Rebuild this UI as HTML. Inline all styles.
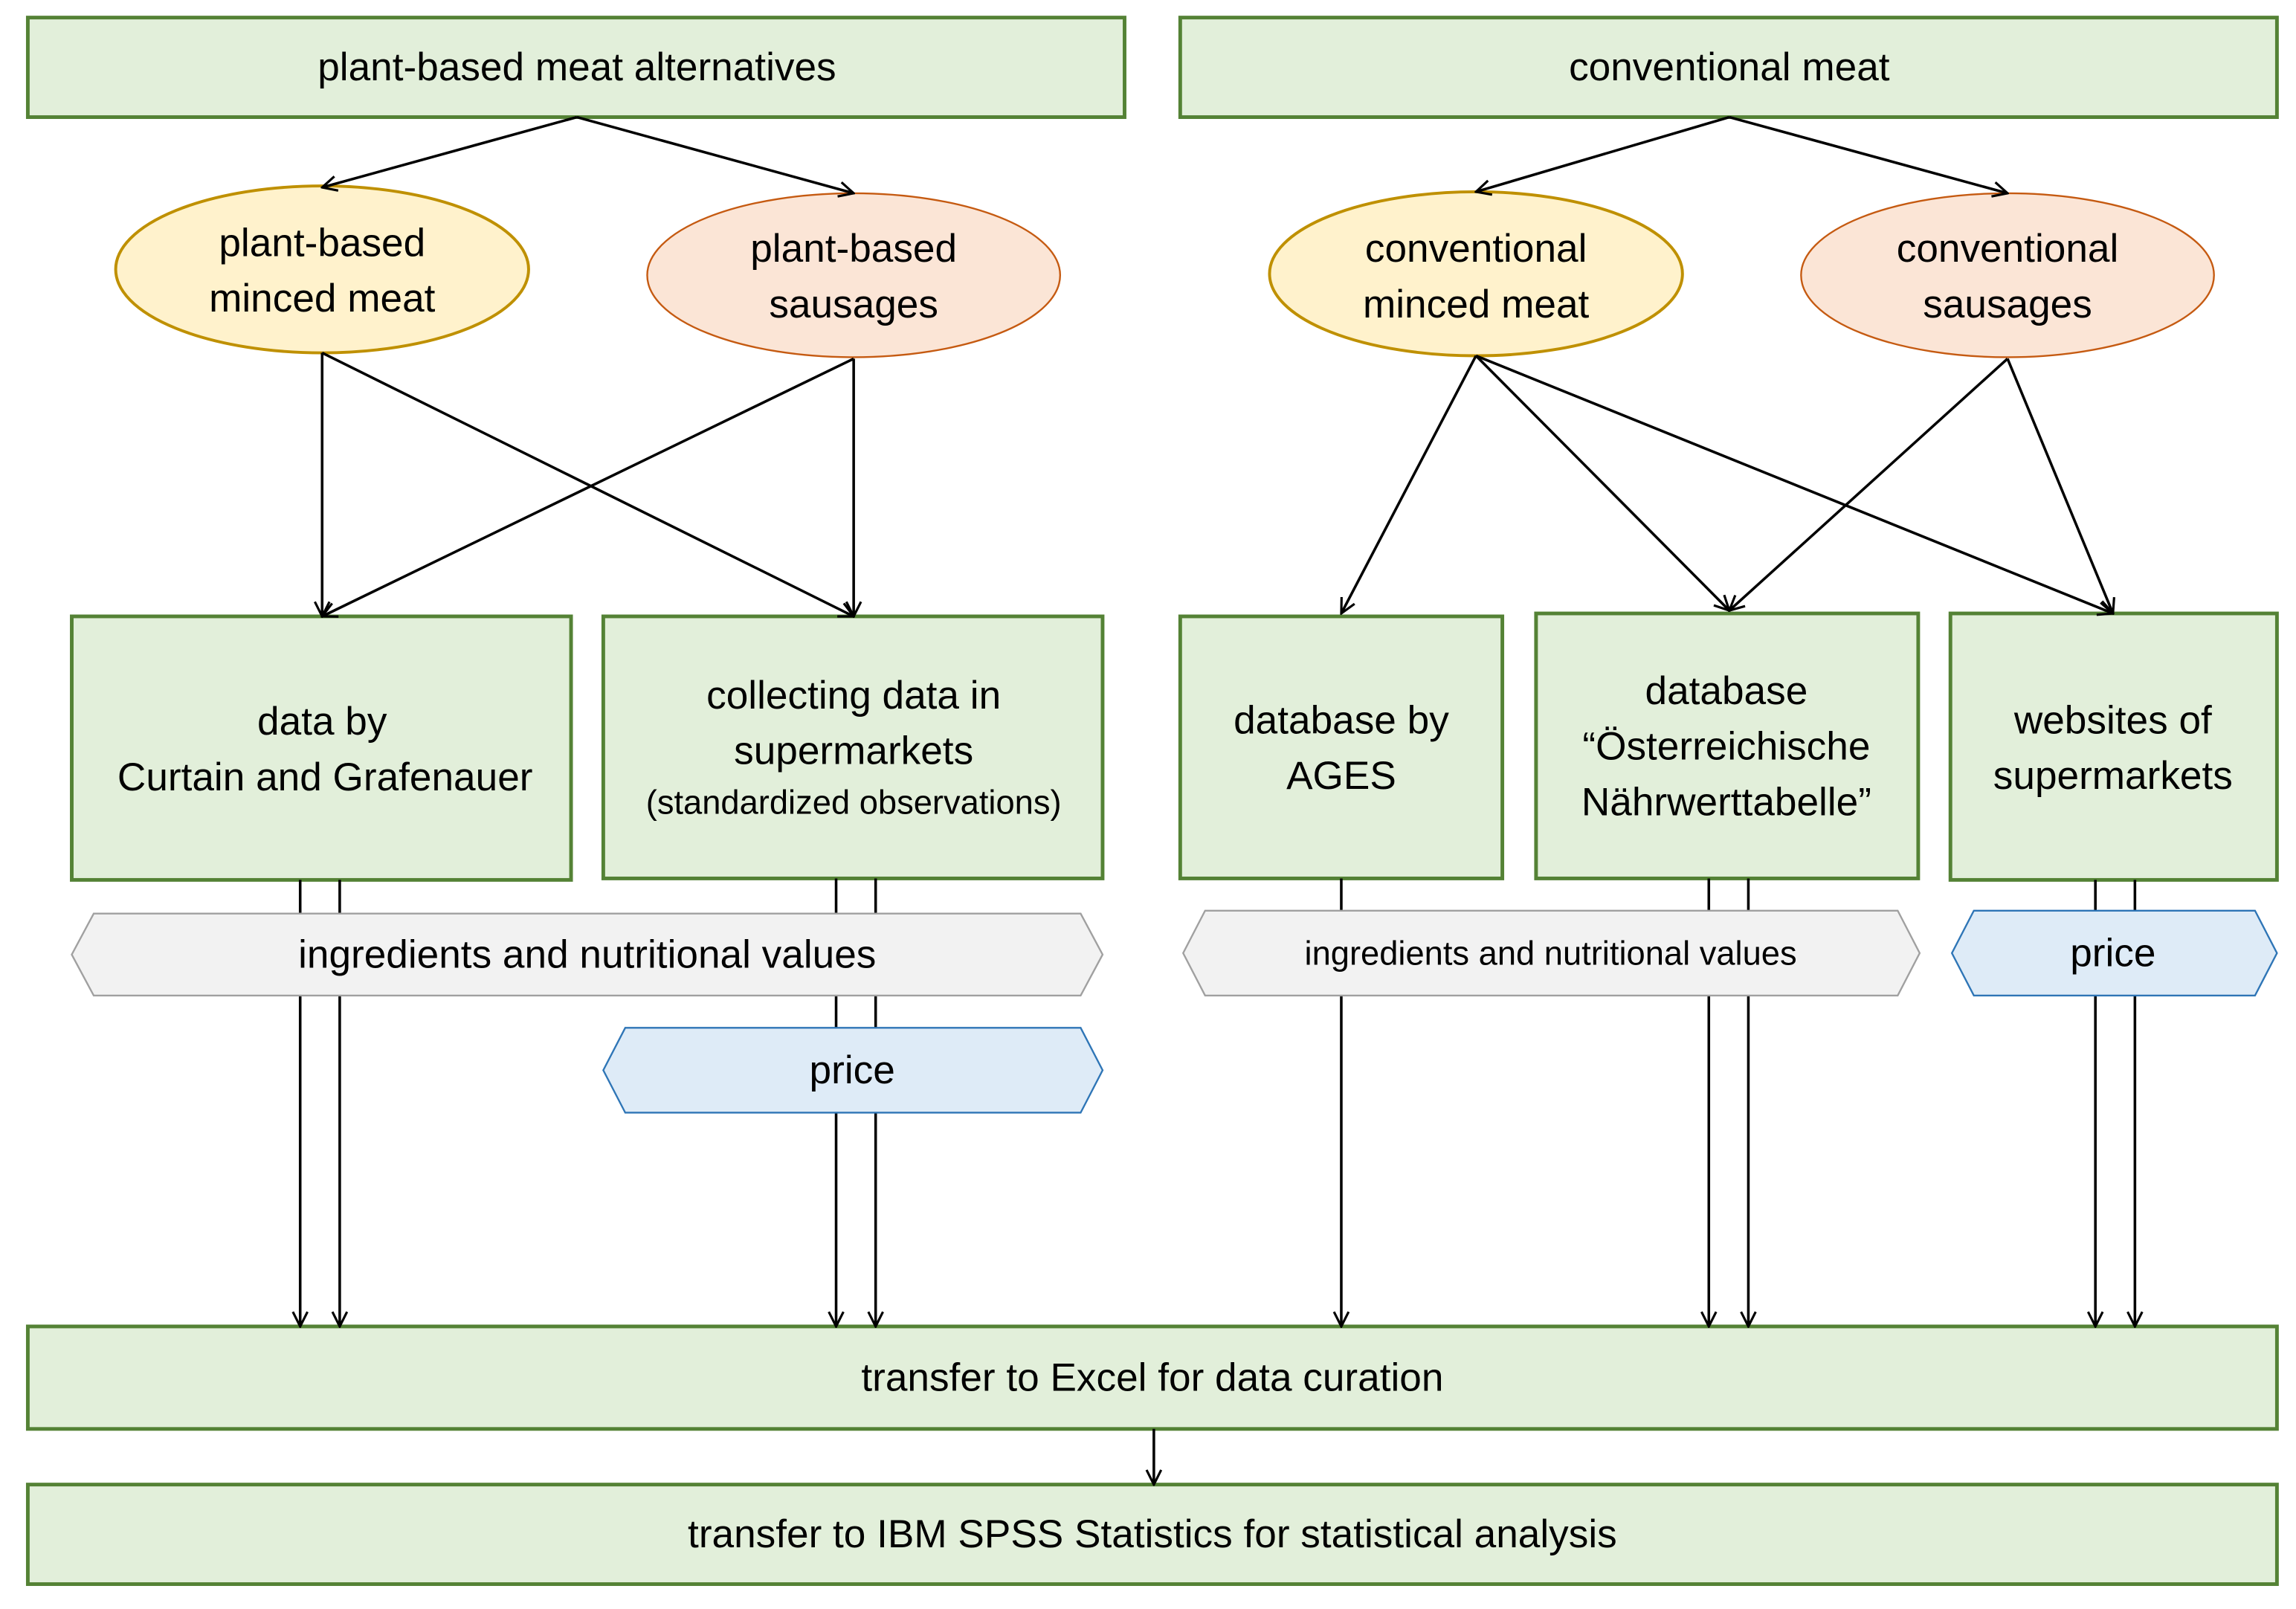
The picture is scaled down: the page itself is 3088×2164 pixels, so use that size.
<!DOCTYPE html>
<html><head><meta charset="utf-8"><style>
html,body{margin:0;padding:0;background:#fff;}
svg{display:block;}
text{font-family:"Liberation Sans",sans-serif;fill:#000;text-anchor:middle;dominant-baseline:central;}
</style></head><body>
<svg width="3088" height="2164" viewBox="0 0 1568 1099" preserveAspectRatio="none" xmlns="http://www.w3.org/2000/svg">
<defs>
<marker id="a" viewBox="0 0 12 12" refX="11" refY="6" markerWidth="12" markerHeight="12" markerUnits="userSpaceOnUse" orient="auto">
<polyline points="1,1 11,6 1,11" fill="none" stroke="#000" stroke-width="1.6"/>
</marker>
</defs>
<g fill="#e2efda" stroke="#548235" stroke-width="2.5">
<rect x="19" y="12" width="749" height="68"/>
<rect x="806" y="12" width="749" height="68"/>
<rect x="49" y="421" width="341" height="180"/>
<rect x="412" y="421" width="341" height="179"/>
<rect x="806" y="421" width="220" height="179"/>
<rect x="1049" y="419" width="261" height="181"/>
<rect x="1332" y="419" width="223" height="182"/>
<rect x="19" y="906" width="1536" height="70"/>
<rect x="19" y="1014" width="1536" height="68"/>
</g>
<ellipse cx="220" cy="184" rx="141" ry="57" fill="#fff2cc" stroke="#bf9000" stroke-width="2"/>
<ellipse cx="583" cy="188" rx="141" ry="56" fill="#fbe5d6" stroke="#c55a11" stroke-width="1.2"/>
<ellipse cx="1008" cy="187" rx="141" ry="56" fill="#fff2cc" stroke="#bf9000" stroke-width="2"/>
<ellipse cx="1371" cy="188" rx="141" ry="56" fill="#fbe5d6" stroke="#c55a11" stroke-width="1.2"/>
<g stroke="#000" stroke-width="1.8" fill="none" marker-end="url(#a)">
<line x1="394" y1="80" x2="220" y2="128"/>
<line x1="394" y1="80" x2="583" y2="132"/>
<line x1="1181" y1="80" x2="1008" y2="131"/>
<line x1="1181" y1="80" x2="1371" y2="132"/>
<line x1="220" y1="241" x2="220" y2="421"/>
<line x1="220" y1="241" x2="583" y2="421"/>
<line x1="583" y1="245" x2="583" y2="421"/>
<line x1="583" y1="245" x2="220" y2="421"/>
<line x1="1008" y1="243" x2="916" y2="419"/>
<line x1="1008" y1="243" x2="1181" y2="417"/>
<line x1="1008" y1="243" x2="1443" y2="419"/>
<line x1="1371" y1="245" x2="1181" y2="417"/>
<line x1="1371" y1="245" x2="1443" y2="419"/>
<line x1="205" y1="601" x2="205" y2="906"/>
<line x1="232" y1="601" x2="232" y2="906"/>
<line x1="571" y1="600" x2="571" y2="906"/>
<line x1="598" y1="600" x2="598" y2="906"/>
<line x1="916" y1="600" x2="916" y2="906"/>
<line x1="1167" y1="600" x2="1167" y2="906"/>
<line x1="1194" y1="600" x2="1194" y2="906"/>
<line x1="1431" y1="601" x2="1431" y2="906"/>
<line x1="1458" y1="601" x2="1458" y2="906"/>
<line x1="788" y1="976" x2="788" y2="1014"/>
</g>
<polygon points="64,624 738,624 753,652 738,680 64,680 49,652" fill="#f2f2f2" stroke="#a0a0a0" stroke-width="1.2"/>
<polygon points="427,702 738,702 753,731 738,760 427,760 412,731" fill="#deebf7" stroke="#2e75b6" stroke-width="1.2"/>
<polygon points="823,622 1296,622 1311,651 1296,680 823,680 808,651" fill="#f2f2f2" stroke="#a0a0a0" stroke-width="1.2"/>
<polygon points="1348,622 1540,622 1555,651 1540,680 1348,680 1333,651" fill="#deebf7" stroke="#2e75b6" stroke-width="1.2"/>
<g font-size="27">
<text x="394" y="46">plant-based meat alternatives</text>
<text x="1181" y="46">conventional meat</text>
<text x="220" y="166">plant-based</text>
<text x="220" y="204">minced meat</text>
<text x="583" y="170">plant-based</text>
<text x="583" y="208">sausages</text>
<text x="1008" y="170">conventional</text>
<text x="1008" y="208">minced meat</text>
<text x="1371" y="170">conventional</text>
<text x="1371" y="208">sausages</text>
<text x="220" y="493">data by</text>
<text x="222" y="531">Curtain and Grafenauer</text>
<text x="583" y="475">collecting data in</text>
<text x="583" y="513">supermarkets</text>
<text x="583" y="548" font-size="23">(standardized observations)</text>
<text x="916" y="492">database by</text>
<text x="916" y="530">AGES</text>
<text x="1179" y="472">database</text>
<text x="1179" y="510">“Österreichische</text>
<text x="1179" y="548">Nährwerttabelle”</text>
<text x="1443" y="492">websites of</text>
<text x="1443" y="530">supermarkets</text>
<text x="401" y="652">ingredients and nutritional values</text>
<text x="582" y="731">price</text>
<text x="1059" y="651" font-size="23">ingredients and nutritional values</text>
<text x="1443" y="651">price</text>
<text x="787" y="941">transfer to Excel for data curation</text>
<text x="787" y="1048">transfer to IBM SPSS Statistics for statistical analysis</text>
</g>
</svg>
</body></html>
